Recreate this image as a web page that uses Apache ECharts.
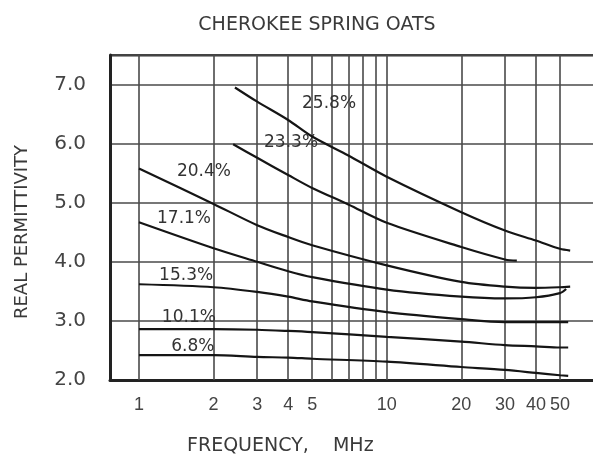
<!DOCTYPE html>
<html><head><meta charset="utf-8">
<script src="https://cdn.jsdelivr.net/npm/echarts@6/dist/echarts.min.js"></script>
<style>html,body{margin:0;padding:0;background:#fff}#c{width:593px;height:468px}</style>
</head><body><div id="c"></div>
<script>
// ---- data ----
const xTickLabels = [1, 2, 3, 4, 5, 10, 20, 30, 40, 50];
const xGridValues = [1, 2, 3, 4, 5, 6, 7, 8, 9, 10, 20, 30, 40, 50];
const yTicks = [2, 3, 4, 5, 6, 7];

const f68 = [1, 2, 3, 4, 5, 10, 20, 30, 40, 50, 54];
const v68 = [2.42, 2.42, 2.39, 2.38, 2.36, 2.31, 2.22, 2.17, 2.12, 2.08, 2.07];
const f101 = [1, 2, 3, 4, 5, 10, 20, 30, 40, 50, 54];
const v101 = [2.86, 2.86, 2.85, 2.83, 2.81, 2.73, 2.65, 2.59, 2.57, 2.55, 2.55];
const f153 = [1, 2, 3, 4, 5, 10, 20, 30, 40, 50, 54];
const v153 = [3.62, 3.57, 3.49, 3.41, 3.33, 3.15, 3.03, 2.98, 2.98, 2.98, 2.98];
const f171 = [1, 2, 3, 4, 5, 10, 20, 30, 40, 50, 53];
const v171 = [4.67, 4.23, 4.00, 3.84, 3.74, 3.53, 3.41, 3.38, 3.40, 3.47, 3.54];
const f204 = [1, 2, 3, 4, 5, 10, 20, 30, 40, 50, 55];
const v204 = [5.58, 4.98, 4.62, 4.42, 4.28, 3.94, 3.66, 3.58, 3.56, 3.57, 3.58];
const f233 = [2.4, 3, 4, 5, 7, 10, 20, 30, 33.5];
const v233 = [5.99, 5.76, 5.47, 5.25, 4.97, 4.66, 4.25, 4.04, 4.02];
const f258 = [2.44, 3, 4, 5, 7, 10, 20, 30, 40, 50, 55];
const v258 = [6.95, 6.71, 6.40, 6.12, 5.80, 5.44, 4.84, 4.53, 4.36, 4.22, 4.19];

const curveNames = ['6.8%', '10.1%', '15.3%', '17.1%', '20.4%', '23.3%', '25.8%'];
const labelFreq = [1.65, 1.59, 1.55, 1.52, 1.83, 4.11, 5.85];
const labelVal  = [2.56, 3.05, 3.77, 4.74, 5.53, 6.02, 6.68];

const title = 'CHEROKEE SPRING OATS';
const xTitle = 'FREQUENCY,    MHz';
const yTitle = 'REAL PERMITTIVITY';

// ---- chart ----
const curves = [[f68, v68], [f101, v101], [f153, v153], [f171, v171], [f204, v204], [f233, v233], [f258, v258]];
const FONT = 'DejaVu Sans';
const series = curves.map((c, i) => ({
  type: 'line', name: curveNames[i], smooth: 0.3, symbol: 'none',
  data: c[0].map((f, k) => [f, c[1][k]]),
  lineStyle: { color: '#151515', width: 2.2 },
  z: 5
}));
series.push({
  type: 'scatter', data: [], silent: true,
  markLine: {
    silent: true, symbol: 'none', animation: false,
    lineStyle: { color: '#4a4a4a', width: 1.6, type: 'solid' },
    label: { show: false },
    data: xGridValues.map(v => ({ xAxis: v }))
  }
});
series.push({
  type: 'scatter', data: [], silent: true, z: 6,
  markPoint: {
    symbol: 'circle', symbolSize: 1, animation: false, silent: true,
    itemStyle: { color: 'rgba(0,0,0,0)' },
    label: { show: true, color: '#333', fontFamily: FONT, fontSize: 17, position: 'inside',
      backgroundColor: 'rgba(255,255,255,0)', formatter: p => p.name },
    data: curveNames.map((n, i) => ({ name: n, coord: [labelFreq[i], labelVal[i]], value: 0 }))
  }
});

const chart = echarts.init(document.getElementById('c'));
chart.setOption({
  animation: false,
  backgroundColor: '#fff',
  title: { text: title, left: 312, top: 11, textAlign: 'center',
    textStyle: { fontFamily: FONT, fontWeight: 'normal', fontSize: 19, color: '#3a3a3a' } },
  grid: { left: 110, right: 0, top: 55, bottom: 88 },
  xAxis: {
    type: 'log', logBase: 10, min: 0.764, max: 68,
    axisLine: { show: true, lineStyle: { color: '#222', width: 3 } },
    axisTick: { show: false },
    splitLine: { show: false },
    axisLabel: { customValues: xTickLabels, color: '#444', fontFamily: 'Liberation Sans', fontSize: 18, margin: 16 }
  },
  yAxis: {
    type: 'value', min: 2, max: 7.5, interval: 1,
    axisLine: { show: true, lineStyle: { color: '#222', width: 3 } },
    axisTick: { show: false },
    splitLine: { show: true, lineStyle: { color: '#4a4a4a', width: 1.6 } },
    axisLabel: { color: '#444', fontFamily: FONT, fontSize: 20, margin: 24,
      formatter: v => (yTicks.indexOf(v) >= 0 ? v.toFixed(1) : '') }
  },
  graphic: [
    { type: 'rect', left: 110, top: 54, shape: { width: 483, height: 2.5 }, style: { fill: '#333' }, silent: true },
    { type: 'text', left: 187, top: 437, style: { text: xTitle, font: '19px "DejaVu Sans"', fill: '#3a3a3a' } },
    { type: 'text', x: 22, y: 232, rotation: Math.PI / 2,
      style: { text: yTitle, font: '18px "DejaVu Sans"', fill: '#3a3a3a', align: 'center', verticalAlign: 'middle' } }
  ],
  series: series
});
</script></body></html>
